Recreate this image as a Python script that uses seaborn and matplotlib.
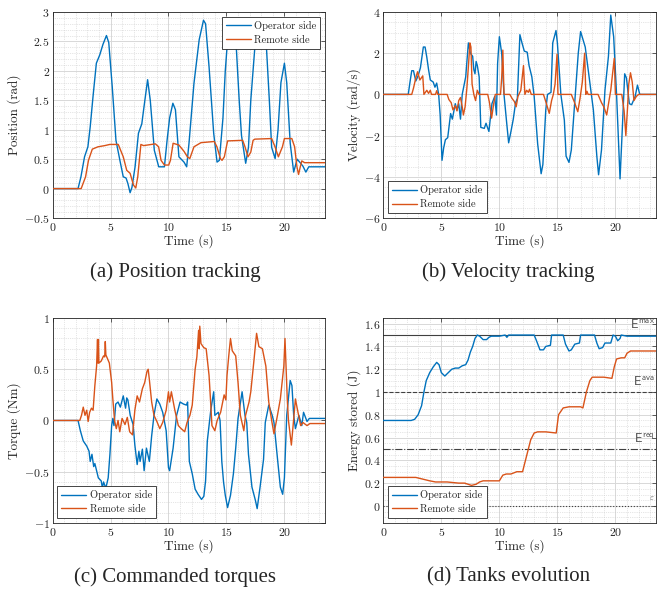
import matplotlib
matplotlib.use("Agg")
import matplotlib.pyplot as plt
from matplotlib.ticker import MultipleLocator, FuncFormatter
import seaborn as sns
import numpy as np
import pandas as pd

# Dados (tempo em s)
pos_op_t = [0, 2.2, 2.45, 2.76, 3.05, 3.25, 3.49, 3.78, 4.07, 4.35, 4.65, 4.85, 5.15, 5.47, 5.81, 6.1, 6.34, 6.5, 6.69,
            6.85, 7.12, 7.41, 7.7, 7.85, 8.2, 8.43, 8.78, 9.16, 9.65, 9.88, 10.1, 10.38, 10.6, 10.9, 11.34, 11.57, 11.77,
            12.2, 12.65, 13.02, 13.2, 13.5, 13.9, 14.19, 14.39, 14.7, 14.9, 15.05, 15.45, 15.85, 16.1, 16.3, 16.66,
            16.9, 17.1, 17.45, 17.95, 18.45, 18.7, 18.9, 19.2, 19.45, 19.7, 20.0, 20.2, 20.5, 20.8, 21.1, 21.4, 21.6,
            21.85, 22.1, 23.5]
pos_op = [0, 0, 0.2, 0.54, 0.71, 1.05, 1.56, 2.13, 2.27, 2.45, 2.6, 2.48, 1.73, 0.82, 0.48, 0.2, 0.18, 0.085, -0.07,
          0.02, 0.37, 0.94, 1.1, 1.33, 1.85, 1.5, 0.65, 0.37, 0.37, 0.82, 1.2, 1.45, 1.34, 0.54, 0.45, 0.37, 0.77,
          1.79, 2.53, 2.86, 2.8, 2.07, 0.94, 0.45, 0.48, 1.2, 2.0, 2.4, 2.85, 2.4, 1.5, 0.9, 0.43,
          0.7, 1.5, 2.4, 2.85, 2.4, 1.5, 0.7, 0.51, 1.0, 1.8, 2.13, 1.8, 0.77, 0.28, 0.5, 0.43, 0.38,
          0.28, 0.37, 0.37]
pos_rem_t = [0, 2.47, 2.85, 3.1, 3.43, 3.92, 4.5, 4.94, 5.67, 6.1, 6.4, 6.69, 6.98, 7.18, 7.35, 7.62, 7.85, 8.87,
             9.15, 9.36, 9.65, 10.02, 10.17, 10.4, 10.9, 11.35, 11.63, 11.84, 12.2, 12.8, 13.95, 14.18, 14.48, 14.62,
             14.82, 15.1, 16.4, 16.6, 16.86, 17.1, 17.3, 17.45, 18.9, 19.19, 19.48, 19.83, 20.0, 20.64, 20.88, 21.08,
             21.22, 21.37, 21.5, 21.74, 23.5]
pos_rem = [0, 0, 0.2, 0.48, 0.67, 0.71, 0.73, 0.75, 0.75, 0.54, 0.31, 0.26, 0.06, 0.01, 0.2, 0.75, 0.73, 0.76,
           0.71, 0.48, 0.4, 0.4, 0.48, 0.77, 0.74, 0.63, 0.54, 0.51, 0.71, 0.78, 0.8, 0.71, 0.51, 0.48,
           0.54, 0.81, 0.82, 0.71, 0.54, 0.62, 0.82, 0.84, 0.85, 0.71, 0.54, 0.71, 0.85, 0.85, 0.71, 0.37,
           0.24, 0.37, 0.47, 0.44, 0.44]

vel_op_t = [0, 2.15, 2.3, 2.45, 2.6, 2.8, 3.0, 3.2, 3.45, 3.6, 3.75, 3.9, 4.05, 4.3, 4.45, 4.6, 4.77, 4.9, 5.06, 5.2,
            5.35, 5.55, 5.8, 5.95, 6.05, 6.2, 6.35, 6.5, 6.65, 6.8, 7.1, 7.33, 7.5, 7.7, 7.8, 7.9, 8.0, 8.1, 8.26, 8.4,
            8.7, 8.85, 9.1, 9.36, 9.6, 9.75, 9.85, 10.0, 10.2, 10.4, 10.6, 10.8, 11.0, 11.2, 11.4, 11.55, 11.77, 11.95,
            12.15, 12.4, 12.56, 12.8, 13.0, 13.3, 13.6, 13.75, 14.0, 14.15, 14.45, 14.6, 14.88, 15.0, 15.3, 15.6,
            15.75, 16.0, 16.2, 16.5, 16.8, 17.0, 17.4, 17.7, 18.1, 18.4, 18.55, 18.8, 19.1, 19.4, 19.6, 19.85, 20.1,
            20.4, 20.6, 20.8, 20.95, 21.2, 21.4, 21.7, 21.9, 22.1, 23.5]
vel_op = [0, 0, 0.6, 1.15, 1.15, 0.65, 0.9, 1.3, 2.3, 2.3, 1.8, 1.2, 0.7, 0.6, 0.35, 0.55, 0.0, -1.0, -3.2, -2.6,
          -2.2, -2.1, -0.93, -1.2, -0.9, -0.45, -0.75, -0.45, -1.2, 0.0, 0.85, 2.5, 2.0, 1.85, 1.2, 1.0, 1.6, 1.4, 0.85,
          -1.6, -1.65, -1.4, -1.8, -0.45, -0.1, -1.0, 1.5, 2.8, 2.0, 0.0, -1.2, -2.35, -1.8, -1.2, -0.4, -0.2, 2.9, 2.5,
          2.1, 2.05, 1.4, 0.85, -0.1, -2.4, -3.85, -3.4, -0.75, 0.0, 0.1, 2.5, 3.1, 2.5, 0.0, -1.25,
          -3.0, -3.3, -2.7, -0.35, 2.0, 3.05, 2.3, 1.0, -0.75, -3.0, -3.9, -2.7, 0.2, 1.85, 3.85, 2.8, 0.0,
          -4.1, -1.6, 1.0, 0.8, -0.45, -0.5, -0.1, 0.45, 0.0, 0.0]
vel_rem_t = [0, 2.45, 2.6, 2.8, 2.95, 3.15, 3.4, 3.5, 3.75, 3.9, 4.05, 4.15, 4.5, 4.6, 4.7, 5.5, 5.65, 5.85, 6.0, 6.2,
             6.35, 6.5, 6.65, 6.8, 6.9, 7.05, 7.2, 7.35, 7.46, 7.55, 7.65, 7.8, 7.95, 8.1, 8.25, 9.0, 9.15, 9.33, 9.5,
             9.65, 10.1, 10.2, 10.3, 10.4, 10.9, 11.1, 11.3, 11.45, 11.6, 11.85, 12.08, 12.2, 12.35, 12.5, 12.6, 12.75,
             13.8, 14.0, 14.3, 14.5, 14.65, 14.8, 14.97, 15.05, 16.2, 16.45, 16.76, 16.95, 17.15, 17.35, 17.45, 17.55,
             17.65, 18.5, 18.8, 19.0, 19.25, 19.45, 19.6, 19.9, 20.0, 20.55, 20.75, 20.9, 21.05, 21.15, 21.3, 21.45,
             21.6, 21.8, 22.0, 23.5]
vel_rem = [0, 0, 0.3, 0.8, 1.1, 0.7, 0.9, 0.0, 0.2, 0.05, 0.2, 0.0, 0.0, 0.18, 0.0, 0.0, -0.25, -0.4, -0.75, -0.55,
           -0.8, -0.3, -0.15, -0.6, -1.0, -0.6, 0.3, 1.5, 2.5, 2.3, 0.5, 0.0, -0.3, 0.2, 0.0, 0.0, -0.4, -1.15, -0.5,
           0.0, 0.0, 0.8, 2.15, 0.0, 0.0, -0.2, -0.35, -0.6, -0.1, 0.2, 1.4, 0.0, 0.2, 0.1, 0.25, 0.0,
           0.0, -0.35, -0.92, -0.3, 0.0, 0.5, 1.95, 0.0, 0.0, -0.35, -0.84, -0.2, 0.6, 2.0, 0.0, 0.15,
           0.0, 0.0, -0.4, -0.6, -1.0, -0.3, 0.2, 1.75, 0.0, 0.0, -0.8, -2.0, -0.6, 0.5, 1.05, 0.6,
           -0.3, -0.1, 0.0, 0.0]

tq_op_t = [0, 2.2, 2.4, 2.65, 2.95, 3.15, 3.25, 3.4, 3.55, 3.65, 3.95, 4.2, 4.3, 4.4, 4.6, 4.8, 4.95, 5.1, 5.2, 5.3,
           5.45, 5.65, 5.85, 6.1, 6.3, 6.4, 6.5, 6.7, 6.95, 7.1, 7.3, 7.45, 7.55, 7.75, 7.9, 8.1, 8.35, 8.55, 8.75, 9.0,
           9.25, 9.5, 9.8, 10.0, 10.1, 10.4, 10.7, 11.0, 11.3, 11.55, 11.65, 11.8, 12.05, 12.3, 12.55, 12.85, 13.05,
           13.2, 13.35, 13.5, 13.65, 13.9, 14.0, 14.3, 14.45, 14.6, 14.75, 14.9, 15.1, 15.35, 15.6, 15.8, 16.0, 16.35,
           16.6, 16.75, 16.9, 17.2, 17.5, 17.65, 17.9, 18.2, 18.35, 18.65, 18.95, 19.1, 19.4, 19.65, 19.85, 20.0,
           20.2, 20.5, 20.65, 20.8, 20.95, 21.25, 21.5, 21.65, 21.95, 22.15, 23.5]
tq_op = [0, 0, -0.1, -0.2, -0.25, -0.3, -0.4, -0.33, -0.45, -0.42, -0.56, -0.59, -0.66, -0.6, -0.66, -0.56, -0.33,
         -0.05, 0.02, -0.05, 0.16, 0.18, 0.13, 0.24, 0.12, 0.22, 0.2, 0.05, -0.04, -0.24, -0.43, -0.3, -0.4, -0.28,
         -0.49, -0.27, -0.4, -0.15, 0.05, 0.21, 0.16, 0.08, -0.1, -0.46, -0.49, -0.27, 0.05, 0.18, 0.16, 0.15, 0.18,
         -0.4, -0.52, -0.67, -0.72, -0.77, -0.74, -0.59, -0.2, -0.05, 0.1, 0.28, 0.05, 0.08, 0.0, -0.4, -0.6,
         -0.73, -0.85, -0.73, -0.52, -0.27, 0.02, 0.28, 0.05, -0.02, -0.33, -0.65, -0.78, -0.86, -0.65, -0.38,
         -0.02, 0.15, 0.05, -0.02, -0.37, -0.65, -0.72, -0.56, 0.05, 0.39, 0.34, 0.05, -0.08, 0.05, -0.05, 0.08,
         -0.01, 0.02, 0.02]
tq_rem_t = [0, 2.35, 2.5, 2.65, 2.8, 2.95, 3.07, 3.2, 3.36, 3.5, 3.65, 3.8, 3.88, 3.92, 3.96, 4.0, 4.2, 4.4, 4.5,
            4.55, 4.6, 4.9, 5.1, 5.2, 5.35, 5.5, 5.65, 5.8, 6.0, 6.25, 6.45, 6.65, 6.9, 7.1, 7.3, 7.5, 7.75, 7.95, 8.15,
            8.25, 8.35, 8.55, 8.75, 9.0, 9.25, 9.5, 9.8, 10.0, 10.1, 10.25, 10.55, 10.85, 11.1, 11.4, 11.6, 11.85,
            12.05, 12.3, 12.45, 12.6, 12.65, 12.7, 12.8, 13.05, 13.25, 13.5, 13.6, 13.75, 14.0, 14.2, 14.5, 14.8,
            14.95, 15.05, 15.2, 15.35, 15.5, 15.8, 16.0, 16.2, 16.5, 16.65, 16.95, 17.1, 17.35, 17.6, 17.8, 18.1,
            18.4, 18.65, 18.9, 19.1, 19.4, 19.65, 19.95, 20.05, 20.15, 20.25, 20.35, 20.6, 20.75, 20.95, 21.1,
            21.4, 21.6, 21.95, 22.2, 23.5]
tq_rem = [0, 0, 0.05, 0.13, 0.05, 0.1, -0.01, 0.08, 0.12, 0.1, 0.34, 0.53, 0.79, 0.56, 0.79, 0.56, 0.58, 0.63, 0.62,
          0.77, 0.64, 0.56, 0.37, 0.21, 0.0, -0.08, 0.0, -0.11, 0.02, -0.04, 0.03, -0.11, -0.14, 0.1, 0.24, 0.18,
          0.31, 0.37, 0.48, 0.5, 0.4, 0.18, 0.05, -0.01, -0.08, -0.02, 0.1, 0.28, 0.18, 0.28, 0.1, -0.05, -0.08,
          -0.11, -0.02, 0.05, 0.15, 0.5, 0.62, 0.88, 0.7, 0.92, 0.75, 0.71, 0.7, 0.44, 0.25, -0.05, -0.1, 0.0, 0.08,
          0.25, 0.2, 0.44, 0.63, 0.8, 0.68, 0.63, 0.37, 0.05, -0.1, 0.05, 0.18, 0.28, 0.56, 0.85, 0.72, 0.7, 0.53,
          0.18, 0.0, -0.13, 0.05, 0.21, 0.53, 0.8, 0.5, 0.2, 0.0, -0.24, -0.05, 0.21, 0.12, -0.05, -0.02, -0.05,
          -0.03, -0.03]

en_op_t = [0, 2.4, 2.7, 3.0, 3.3, 3.5, 3.7, 4.0, 4.3, 4.6, 4.8, 5.0, 5.3, 5.6, 5.9, 6.2, 6.5, 6.8, 7.1, 7.3, 7.5,
           7.7, 7.9, 8.1, 8.3, 8.6, 8.9, 9.1, 9.3, 10.0, 10.5, 10.65, 10.8, 13.0, 13.2, 13.5, 13.8, 14.0, 14.4, 14.5,
           15.5, 15.7, 16.0, 16.2, 16.5, 16.9, 17.0, 18.2, 18.4, 18.6, 18.9, 19.1, 19.6, 19.8, 20.0, 20.2, 20.4,
           20.5, 21.0, 23.5]
en_op = [0.75, 0.75, 0.76, 0.8, 0.88, 1.0, 1.1, 1.17, 1.22, 1.26, 1.24, 1.17, 1.14, 1.17, 1.2, 1.21, 1.21, 1.23,
         1.24, 1.28, 1.35, 1.4, 1.47, 1.5, 1.49, 1.46, 1.46, 1.48, 1.49, 1.49, 1.5, 1.48, 1.5, 1.5, 1.45, 1.37, 1.37,
         1.4, 1.41, 1.5, 1.5, 1.42, 1.36, 1.37, 1.42, 1.43, 1.5, 1.5, 1.43, 1.38, 1.39, 1.43, 1.43, 1.5, 1.49, 1.45,
         1.47, 1.5, 1.49, 1.49]
en_rem_t = [0, 2.8, 3.2, 3.6, 4.0, 4.5, 5.5, 6.5, 7.0, 7.3, 7.6, 8.0, 8.3, 8.6, 10.0, 10.3, 10.6, 11.0, 11.5, 12.0,
            12.3, 12.5, 12.7, 13.0, 13.3, 14.0, 14.9, 15.1, 15.5, 16.0, 17.0, 17.2, 17.5, 17.8, 18.0, 19.0, 19.7,
            19.9, 20.1, 20.5, 20.8, 21.0, 21.3, 23.5]
en_rem = [0.25, 0.25, 0.24, 0.23, 0.22, 0.21, 0.21, 0.2, 0.2, 0.19, 0.18, 0.19, 0.21, 0.22, 0.22, 0.27, 0.28,
          0.28, 0.3, 0.3, 0.42, 0.5, 0.58, 0.64, 0.65, 0.65, 0.64, 0.8, 0.86, 0.87, 0.87, 0.86, 1.0, 1.1, 1.13,
          1.13, 1.12, 1.22, 1.29, 1.3, 1.3, 1.34, 1.36, 1.36]

tank_levels = [1.5, 1.0, 0.5, 0.0]
tank_styles = ['-', '--', '-.', ':']
tank_labels = [r'$\mathsf{E^{max}}$', r'$\mathsf{E^{ava}}$', r'$\mathsf{E^{req}}$', r'$\varepsilon$']

sides = ['Operator side', 'Remote side']
cores = {'Operator side': '#0072BD', 'Remote side': '#D95319'}
legenda_pos = ['upper right', 'lower left', 'lower left', 'lower left']
ylabels = ['Position (rad)', 'Velocity (rad/s)', 'Torque (Nm)', 'Energy stored (J)']
ylims = [(-0.5, 3), (-6, 4), (-1, 1), (-0.15, 1.65)]
ymajor = [0.5, 2, 0.5, 0.2]
yminor = [0.1, 0.5, 0.1, 0.05]
captions = ['(a) Position tracking', '(b) Velocity tracking', '(c) Commanded torques', '(d) Tanks evolution']

sns.set_theme(style='whitegrid')
plt.rcParams['font.family'] = ['cmr10']
plt.rcParams['mathtext.fontset'] = 'cm'
plt.rcParams['axes.unicode_minus'] = False

fig = plt.figure(figsize=(6.65, 5.91), dpi=100)
pos_axes = [[0.079, 0.6311, 0.4097, 0.3486], [0.5764, 0.6311, 0.4101, 0.3486],
            [0.079, 0.1151, 0.4097, 0.3469], [0.5764, 0.1151, 0.4101, 0.3469]]

series = [(pos_op_t, pos_op, pos_rem_t, pos_rem), (vel_op_t, vel_op, vel_rem_t, vel_rem),
          (tq_op_t, tq_op, tq_rem_t, tq_rem), (en_op_t, en_op, en_rem_t, en_rem)]

fmt = FuncFormatter(lambda v, p: f'${v:g}$')

for i, (t1, y1, t2, y2) in enumerate(series):
    ax = fig.add_axes(pos_axes[i])
    df = pd.concat([pd.DataFrame({'Time': t1, 'Value': y1, 'Side': sides[0]}),
                    pd.DataFrame({'Time': t2, 'Value': y2, 'Side': sides[1]})], ignore_index=True)

    if i == 3:
        for lvl, ls, lab in zip(tank_levels, tank_styles, tank_labels):
            ax.axhline(lvl, color='#404040', lw=0.8, ls=ls, zorder=1)
            ax.text(23.4, lvl + 0.03, lab, ha='right', va='bottom', color='#505050',
                    fontsize=9 if lvl > 0 else 6)

    sns.lineplot(data=df, x='Time', y='Value', hue='Side', palette=cores, estimator=None,
                 sort=False, lw=1.0, ax=ax, zorder=3)

    ax.set_xlim(0, 23.5)
    ax.set_ylim(*ylims[i])
    ax.xaxis.set_major_locator(MultipleLocator(5))
    ax.xaxis.set_minor_locator(MultipleLocator(1))
    ax.yaxis.set_major_locator(MultipleLocator(ymajor[i]))
    ax.yaxis.set_minor_locator(MultipleLocator(yminor[i]))
    ax.xaxis.set_major_formatter(fmt)
    ax.yaxis.set_major_formatter(fmt)
    ax.grid(which='major', color='#d8d8d8', lw=0.7, ls='-')
    ax.grid(which='minor', color='#cccccc', lw=0.5, ls=':')
    ax.tick_params(which='major', direction='in', length=3, width=0.5, color='#262626',
                   top=True, right=True, labelsize=8.5, pad=2, labelcolor='#262626')
    ax.tick_params(which='minor', length=0)
    for sp in ax.spines.values():
        sp.set_color('#262626')
        sp.set_linewidth(0.6)
    ax.set_xlabel('Time (s)', fontsize=9.5, labelpad=1, color='#262626')
    ax.set_ylabel(ylabels[i], fontsize=9.5, labelpad=2, color='#262626')

    h, l = ax.get_legend_handles_labels()
    leg = ax.legend(h, l, loc=legenda_pos[i], fontsize=7.5, frameon=True, fancybox=False,
                    framealpha=1, edgecolor='#262626', handlelength=2.4, handletextpad=0.3,
                    borderpad=0.4, labelspacing=0.4, borderaxespad=0.45)
    leg.get_frame().set_linewidth(0.6)
    leg.set_zorder(10)

# Legendas das subfiguras
cap_x = [0.263, 0.765, 0.263, 0.765]
cap_y = [0.5398, 0.5398, 0.0237, 0.0237]
for cx, cy, txt in zip(cap_x, cap_y, captions):
    fig.text(cx, cy, txt, ha='center', va='center', fontsize=15, family='Liberation Serif')

fig.savefig('out.png', dpi=100)
